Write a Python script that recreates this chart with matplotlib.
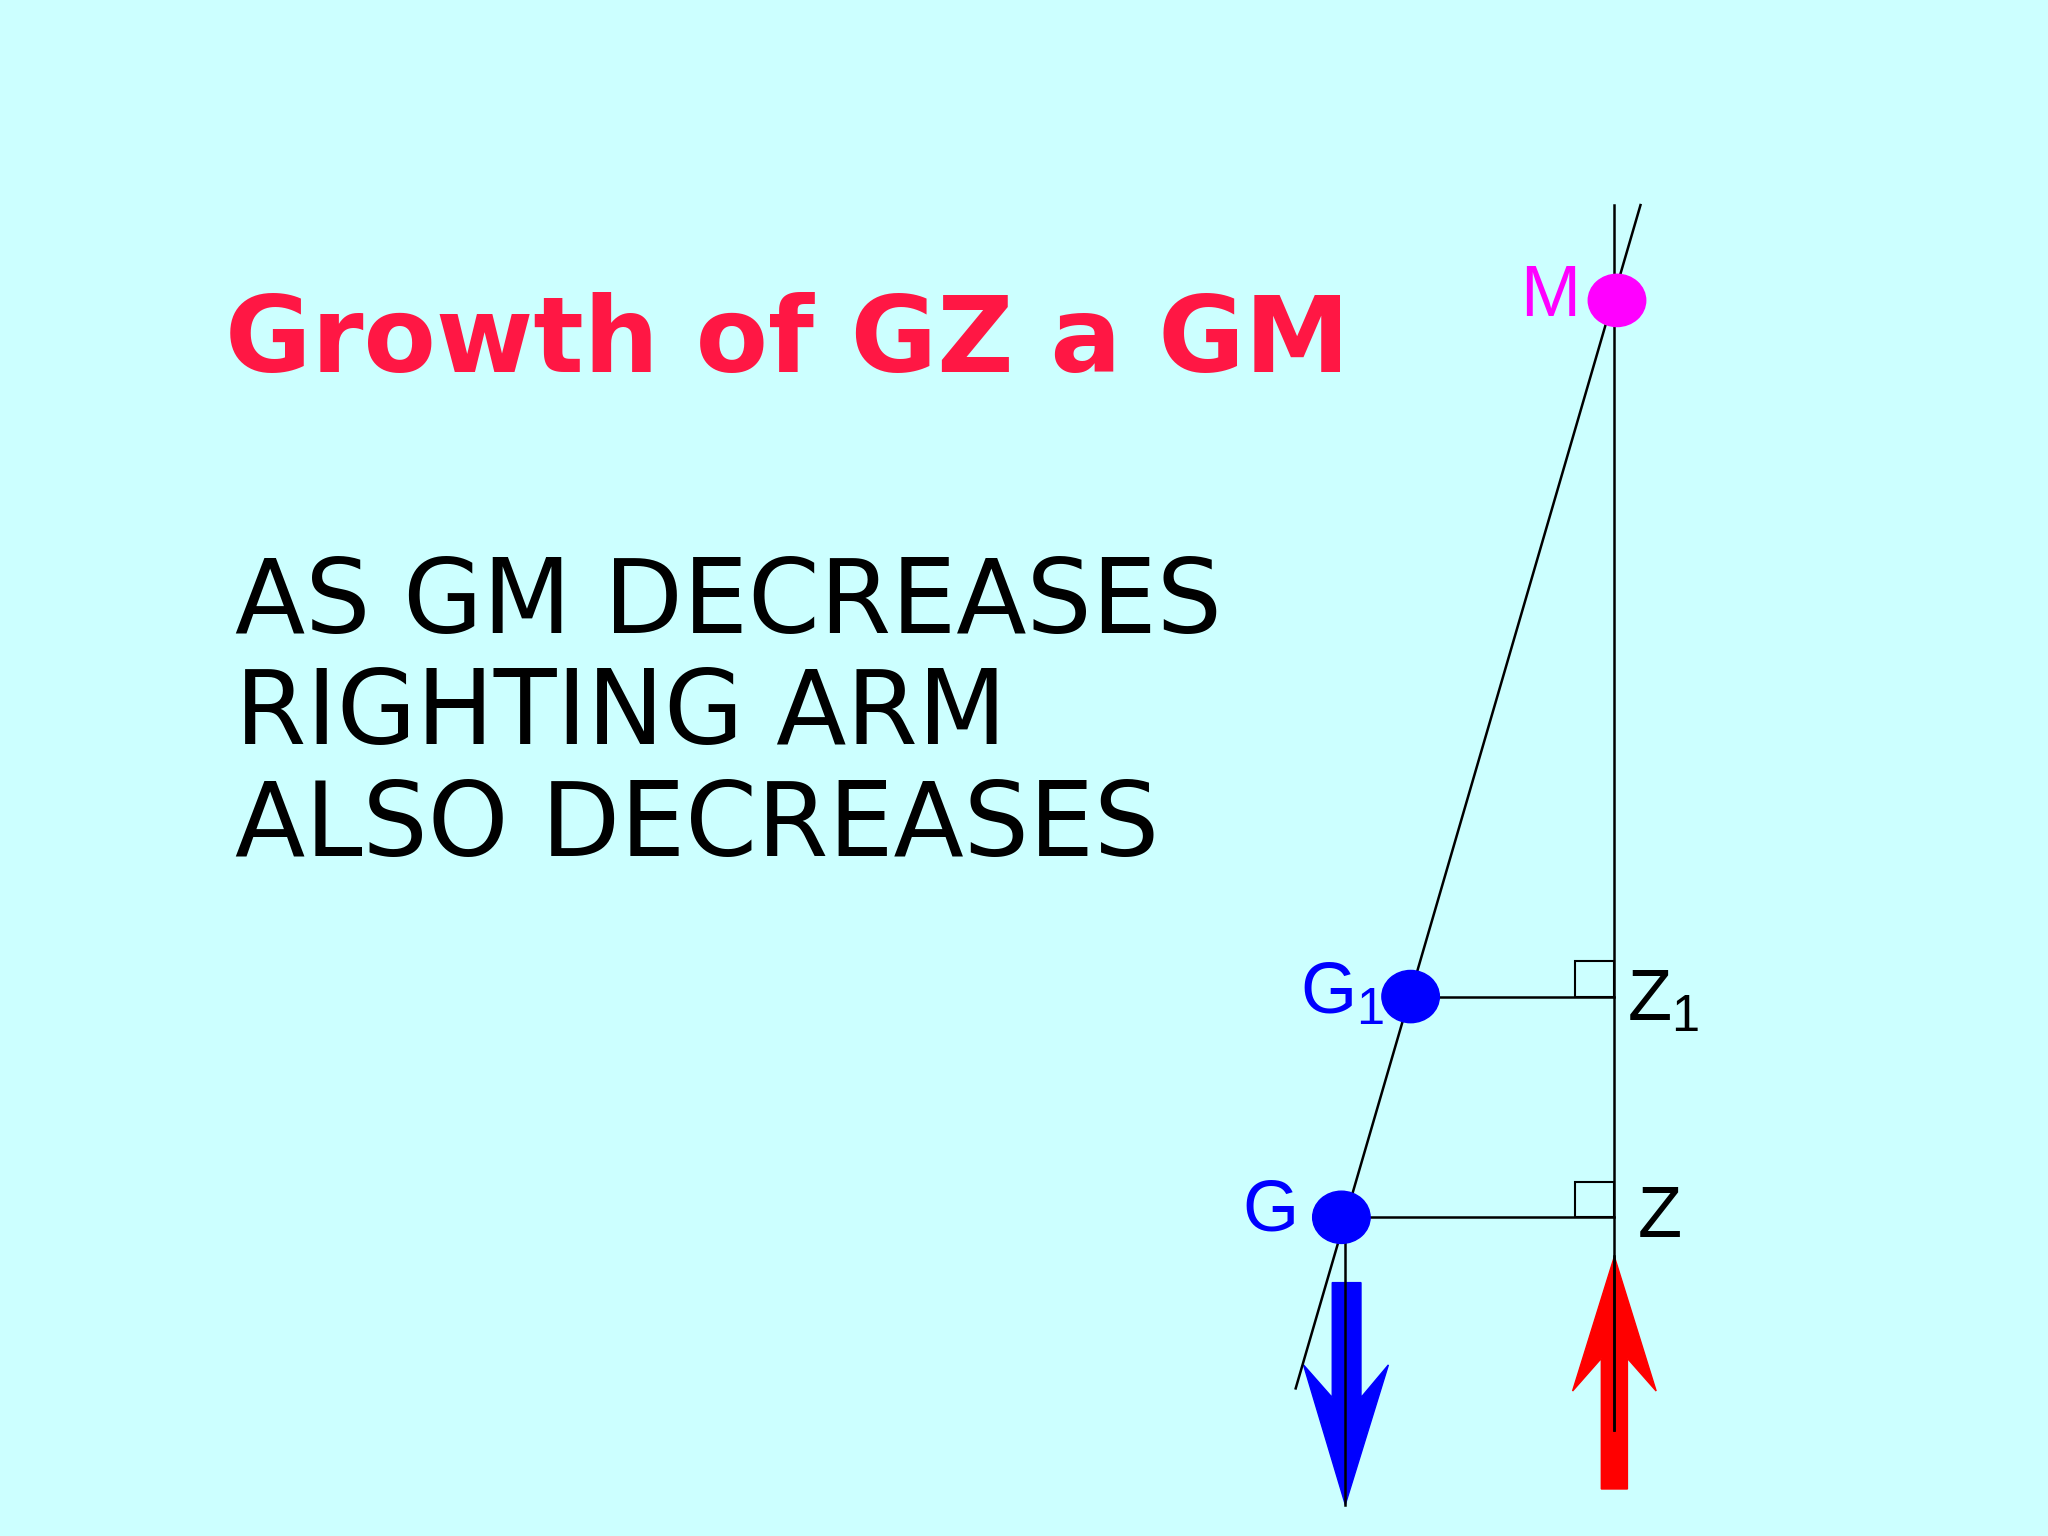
import matplotlib
matplotlib.use("Agg")
import matplotlib.pyplot as plt
from matplotlib.patches import Ellipse, Polygon, Rectangle

title = "Growth of GZ a GM"
body = ["AS GM DECREASES", "RIGHTING ARM", "ALSO DECREASES"]
points = {"M": (1238, 230), "G1": (1080, 763), "G": (1027, 932)}
z_x = 1236

fig = plt.figure(figsize=(20.48, 15.36), dpi=100)
fig.patch.set_facecolor("#CCFFFF")
ax = fig.add_axes([0, 0, 1, 1])
ax.set_xlim(0, 1568); ax.set_ylim(1176, 0); ax.axis("off")
ax.set_facecolor("#CCFFFF")

ax.text(172, 285, title, color="#FF1744", fontsize=76, fontweight="bold",
        family="DejaVu Sans", va="baseline", ha="left")
for i, line in enumerate(body):
    ax.text(180, 485 + i * 85, line, color="black", fontsize=74,
            family="DejaVu Sans", va="baseline", ha="left")

ax.plot([z_x, z_x], [157, 1095], color="black", lw=1.8)
ax.plot([1256, 992], [157, 1063], color="black", lw=1.8)
for name in ("G1", "G"):
    x, y = points[name]
    ax.plot([x, z_x], [y, y], color="black", lw=1.8)
    ax.add_patch(Rectangle((z_x - 30, y - 27), 30, 27, fill=False, ec="black", lw=1.5))

ax.add_patch(Polygon([(1020, 982), (1042, 982), (1042, 1070), (1063, 1045), (1030, 1152),
                      (998, 1045), (1020, 1070)], closed=True, color="#0000FF"))
ax.plot([1030, 1030], [932, 1152], color="black", lw=1.8)
ax.add_patch(Polygon([(1226, 1140), (1246, 1140), (1246, 1040), (1268, 1065), (1236, 962),
                      (1204, 1065), (1226, 1040)], closed=True, color="#FF0000"))
ax.plot([z_x, z_x], [962, 1095], color="black", lw=1.8)

cols = {"M": "#FF00FF", "G1": "#0000FF", "G": "#0000FF"}
for name, (x, y) in points.items():
    ax.add_patch(Ellipse((x, y), 44, 40, color=cols[name], zorder=5))

kw = dict(fontsize=52, va="center", family="Liberation Sans")
ax.text(1210, 228, "M", color="#FF00FF", ha="right", **kw)
ax.text(1060, 762, "G$_{\\mathregular{1}}$", color="#0000FF", ha="right", **kw)
ax.text(994, 928, "G", color="#0000FF", ha="right", **kw)
ax.text(1246, 767, "Z$_{\\mathregular{1}}$", color="black", ha="left", **kw)
ax.text(1254, 933, "Z", color="black", ha="left", **kw)

fig.savefig("out.png", dpi=100, facecolor=fig.get_facecolor())
